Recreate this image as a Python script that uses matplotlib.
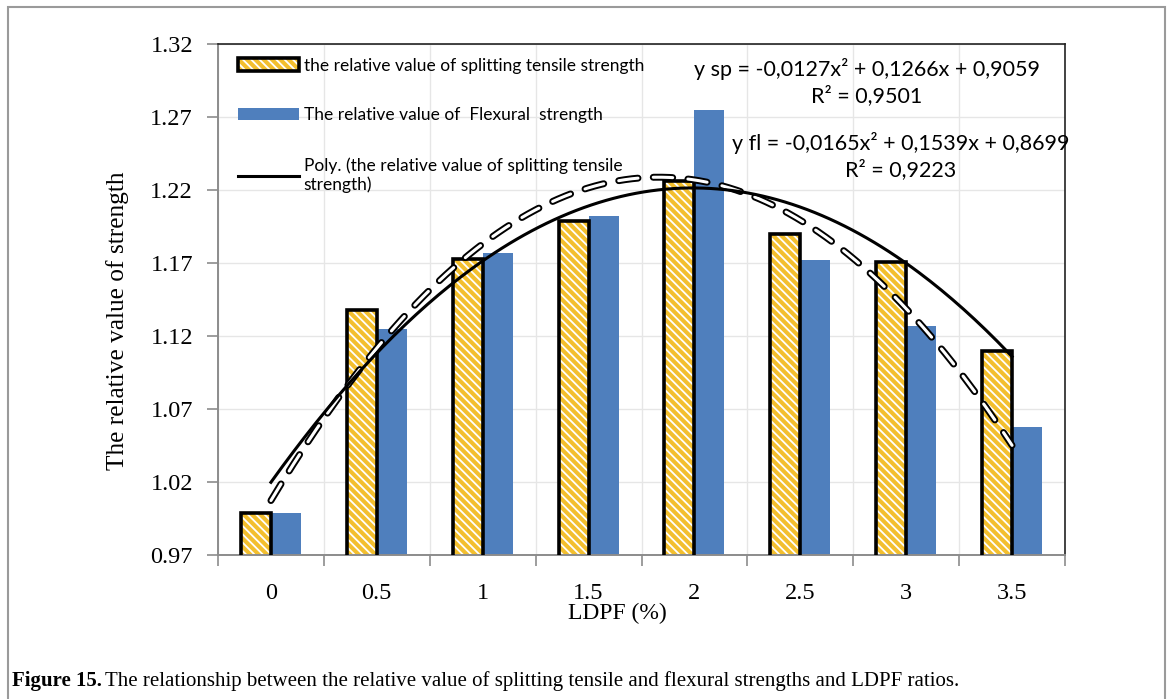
import numpy as np
import matplotlib
matplotlib.use('Agg')
import matplotlib.pyplot as plt
from matplotlib.patches import Rectangle
from matplotlib.legend_handler import HandlerTuple

# data
ldpf = ['0', '0.5', '1', '1.5', '2', '2.5', '3', '3.5']
splitting = [0.999, 1.138, 1.173, 1.199, 1.226, 1.190, 1.171, 1.110]
flexural = [0.999, 1.125, 1.177, 1.202, 1.275, 1.172, 1.127, 1.058]
# trendline coefficients (x = 1..8)
sp_coef = [-0.0127, 0.1266, 0.9059]
fl_coef = [-0.0165, 0.1539, 0.8699]
yticks = [0.97, 1.02, 1.07, 1.12, 1.17, 1.22, 1.27, 1.32]

plt.rcParams['lines.scale_dashes'] = False
plt.rcParams['hatch.linewidth'] = 1.3

yellow = '#F3BF2E'
blue = '#4F7FBD'
sans = ['Lato', 'DejaVu Sans']
serif = ['Liberation Serif', 'DejaVu Serif']

fig = plt.figure(figsize=(11.71, 6.99), dpi=100)
ax = fig.add_axes([218/1171, 1-555/699, 847/1171, 511/699])

x = np.arange(len(ldpf))
w = 0.283
hb = ax.bar(x - w, splitting, w, align='edge', color=yellow, edgecolor='white',
            linewidth=0, hatch='\\' * 4, zorder=2)
ob = ax.bar(x - w, splitting, w, align='edge', facecolor='none', edgecolor='black',
            linewidth=2.6, zorder=3)
bb = ax.bar(x, flexural, w, align='edge', color=blue, linewidth=0, zorder=2)

xs = np.linspace(0, 7, 200)
ax.plot(xs, np.polyval(fl_coef, xs + 1), color='black', lw=5, dashes=(14, 11),
        dash_capstyle='round', zorder=4)
ax.plot(xs, np.polyval(fl_coef, xs + 1), color='white', lw=2.2, dashes=(14, 11),
        dash_capstyle='round', zorder=5)
line, = ax.plot(xs, np.polyval(sp_coef, xs + 1), color='black', lw=2.2, zorder=6)

ax.set_xlim(-0.5, 7.5)
ax.set_ylim(0.97, 1.32)
ax.set_yticks(yticks)
ax.set_yticklabels(['%.2f' % v for v in yticks], fontsize=17.5, family=serif)
ax.set_xticks(x)
ax.set_xticklabels(ldpf, fontsize=17.5, family=serif)
ax.set_xticks(np.arange(-0.5, 8, 1), minor=True)
ax.tick_params(axis='x', which='major', length=0, pad=20)
ax.tick_params(axis='x', which='minor', length=8, color='#8c8c8c', width=1.2)
ax.tick_params(axis='y', length=8, color='#8c8c8c', width=1.2, pad=10)

ax.grid(axis='y', which='major', color='#e6e6e6', lw=1, zorder=0)
ax.grid(axis='x', which='minor', color='#e6e6e6', lw=1, zorder=0)
ax.set_axisbelow(True)
for s in ['top', 'right']:
    ax.spines[s].set_color('#222222')
    ax.spines[s].set_linewidth(1.2)
for s in ['left', 'bottom']:
    ax.spines[s].set_color('#8c8c8c')
    ax.spines[s].set_linewidth(1.4)

ax.legend([(hb[0], ob[0]), bb[0], line],
          ['the relative value of splitting tensile strength',
           'The relative value of  Flexural  strength',
           'Poly. (the relative value of splitting tensile\nstrength)'],
          handler_map={tuple: HandlerTuple(ndivide=1, pad=0)},
          loc='upper left', bbox_to_anchor=(0.005, 1.004), frameon=False,
          prop={'family': sans, 'size': 12.5}, handlelength=3.5, handletextpad=0.3,
          labelspacing=1.95)

ax.text(5.63, 1.294, 'y sp = -0,0127x² + 0,1266x + 0,9059\nR² = 0,9501', family=sans,
        fontsize=15.5, ha='center', va='center', multialignment='center',
        linespacing=1.35, zorder=7)
ax.text(5.95, 1.2433, 'y fl = -0,0165x² + 0,1539x + 0,8699\nR² = 0,9223', family=sans,
        fontsize=15.5, ha='center', va='center', multialignment='center',
        linespacing=1.3, zorder=7)

fig.text(118/1171, 1-321/699, 'The relative value of strength', rotation=90,
         ha='center', va='center', fontsize=18.3, family=serif)
fig.text(617/1171, 1-613/699, 'LDPF (%)', ha='center', va='center',
         fontsize=17, family=serif)

# caption
r = fig.canvas.get_renderer()
t1 = fig.text(12/1171, 1-681/699, 'Figure 15.', fontweight='bold', ha='left',
              va='center', fontsize=15, family=serif)
bx = t1.get_window_extent(r)
fig.text(bx.x1/1171 + 3/1171, 1-681/699,
         'The relationship between the relative value of splitting tensile and flexural strengths and LDPF ratios.',
         ha='left', va='center', fontsize=15, family=serif)

# outer frame
fig.patches.append(Rectangle((8/1171, -0.01), 1157/1171, 1-7/699 + 0.01,
                             transform=fig.transFigure, fill=False,
                             edgecolor='#9a9a9a', lw=1.5))

fig.savefig('out.png', dpi=100)
